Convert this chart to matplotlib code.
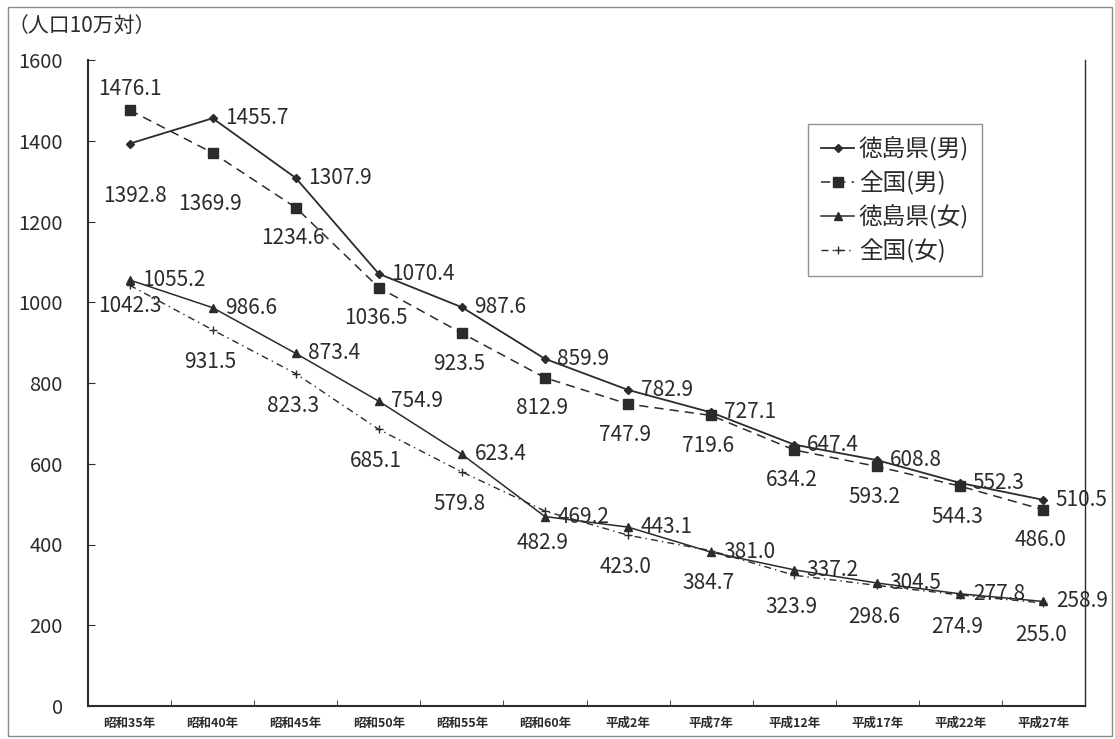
import matplotlib
matplotlib.use("Agg")
import matplotlib.pyplot as plt
from matplotlib.patches import Rectangle

plt.rcParams['font.family'] = ['Noto Sans CJK JP', 'DejaVu Sans']

# 年次
years = ['昭和35年', '昭和40年', '昭和45年', '昭和50年', '昭和55年', '昭和60年',
         '平成2年', '平成7年', '平成12年', '平成17年', '平成22年', '平成27年']

# 人口10万対
tokushima_male = [1392.8, 1455.7, 1307.9, 1070.4, 987.6, 859.9,
                  782.9, 727.1, 647.4, 608.8, 552.3, 510.5]
national_male = [1476.1, 1369.9, 1234.6, 1036.5, 923.5, 812.9,
                 747.9, 719.6, 634.2, 593.2, 544.3, 486.0]
tokushima_female = [1055.2, 986.6, 873.4, 754.9, 623.4, 469.2,
                    443.1, 381.0, 337.2, 304.5, 277.8, 258.9]
national_female = [1042.3, 931.5, 823.3, 685.1, 579.8, 482.9,
                   423.0, 384.7, 323.9, 298.6, 274.9, 255.0]

series_names = ['徳島県(男)', '全国(男)', '徳島県(女)', '全国(女)']
y_ticks = [0, 200, 400, 600, 800, 1000, 1200, 1400, 1600]

ink = '#2b2b2b'

fig = plt.figure(figsize=(11.15, 7.39), dpi=100)
fig.patch.set_facecolor('white')

# outer frame of the chart
fig.patches.append(Rectangle((8 / 1115, 3 / 739), 1104 / 1115, 729 / 739,
                             transform=fig.transFigure, fill=False,
                             edgecolor='#8a8a8a', linewidth=1.0))

ax = fig.add_axes([88 / 1115, 1 - 706 / 739, 997 / 1115, 646 / 739])
x = list(range(len(years)))

styles = [
    dict(linestyle='-', marker='D', markersize=4.5, linewidth=1.3),
    dict(linestyle=(0, (6, 4)), marker='s', markersize=6.5, linewidth=1.1),
    dict(linestyle='-', marker='^', markersize=5.5, linewidth=1.1),
    dict(linestyle=(0, (5, 3, 1, 3)), marker='+', markersize=6, linewidth=1.0),
]
data = [tokushima_male, national_male, tokushima_female, national_female]

for vals, name, st in zip(data, series_names, styles):
    ax.plot(x, vals, color=ink, markerfacecolor=ink, markeredgecolor=ink,
            label=name, **st)

label_font = dict(fontsize=15, color=ink)


def put_label(i, v, off):
    ax.annotate(f'{v:.1f}', (i, v), xytext=off[:2], textcoords='offset points',
                ha=off[2], va='center', **label_font)


# 徳島県(男): right of the marker
for i, v in enumerate(tokushima_male):
    put_label(i, v, (4, -38, 'center') if i == 0 else (9, 0, 'left'))

# 全国(男): above the first marker, below the others
for i, v in enumerate(national_male):
    if i == 0:
        off = (0, 15, 'center')
    elif i == 1:
        off = (-2, -37, 'center')
    else:
        off = (-2, -22, 'center')
    put_label(i, v, off)

# 徳島県(女): right of the marker
for i, v in enumerate(tokushima_female):
    put_label(i, v, (9, 0, 'left'))

# 全国(女): below the marker
for i, v in enumerate(national_female):
    put_label(i, v, (0, -15, 'center') if i == 0 else (-2, -23, 'center'))

ax.set_xlim(-0.5, len(years) - 0.5)
ax.set_ylim(0, 1600)

ax.set_yticks(y_ticks)
ax.set_yticklabels([str(t) for t in y_ticks], fontsize=14.5, color=ink)
ax.tick_params(axis='y', direction='in', length=5, pad=18, color=ink)

ax.set_xticks(x)
ax.set_xticklabels(years, fontsize=9, fontweight='bold', color=ink)
ax.set_xticks([i + 0.5 for i in x[:-1]], minor=True)
ax.tick_params(axis='x', which='major', length=0, pad=8)
ax.tick_params(axis='x', which='minor', direction='in', length=4, color=ink)

for side in ['left', 'bottom']:
    ax.spines[side].set_color(ink)
    ax.spines[side].set_linewidth(1.5)
ax.spines['right'].set_color(ink)
ax.spines['right'].set_linewidth(1.0)
ax.spines['top'].set_visible(False)

fig.text(8 / 1115, 1 - 26 / 739, '（人口10万対）', fontsize=15, color=ink,
         ha='left', va='center')

leg = ax.legend(loc='upper left', bbox_to_anchor=(720 / 997, 1 - 64 / 646),
                fontsize=17, frameon=True, fancybox=False, edgecolor='#777777',
                handlelength=1.4, handletextpad=0.2, labelspacing=0.4,
                borderpad=0.55, borderaxespad=0)
leg.get_frame().set_linewidth(1.0)
for t in leg.get_texts():
    t.set_color(ink)

fig.savefig('out.png', dpi=100, facecolor='white')
